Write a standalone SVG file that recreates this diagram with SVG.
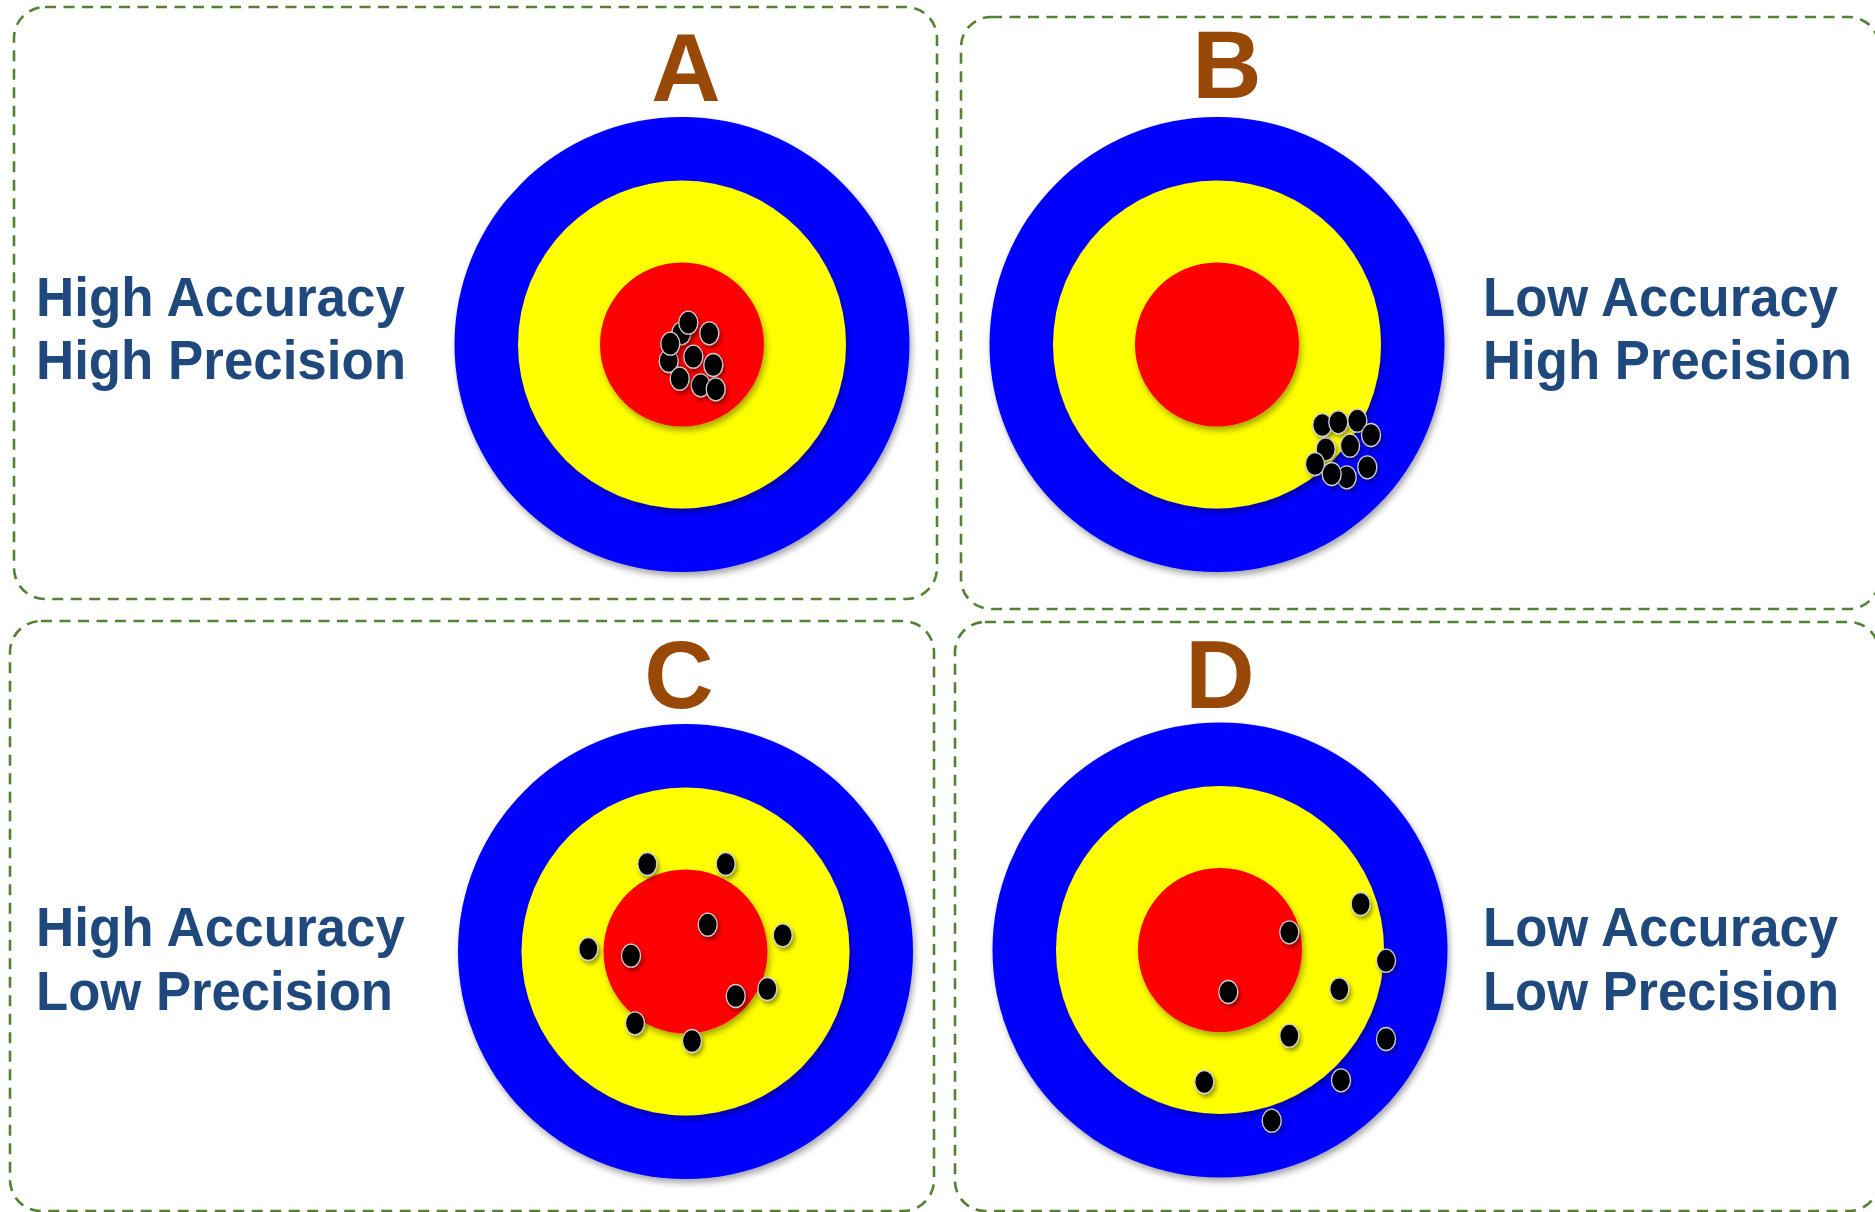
<svg xmlns="http://www.w3.org/2000/svg" width="1875" height="1212" viewBox="0 0 1875 1212">
<defs>
<filter id="sh" x="-20%" y="-20%" width="150%" height="150%">
<feDropShadow dx="2" dy="4" stdDeviation="3" flood-color="#000" flood-opacity="0.35"/>
</filter>
<filter id="dsh" x="-50%" y="-50%" width="220%" height="220%">
<feDropShadow dx="2" dy="3" stdDeviation="2" flood-color="#000" flood-opacity="0.4"/>
</filter>
<g id="target">
<circle r="227.5" fill="#0000FF" filter="url(#sh)"/>
<circle r="164" fill="#FFFF00" filter="url(#sh)"/>
<circle r="82" fill="#FF0000" filter="url(#sh)"/>
</g>
</defs>
<style>
.panel{fill:none;stroke:#548235;stroke-width:2.6;stroke-dasharray:11 7.5}
.letter{font-family:"Liberation Sans",Arial,sans-serif;font-weight:bold;font-size:96px;fill:#984807;text-anchor:middle}
.lbl{font-family:"Liberation Sans",Arial,sans-serif;font-weight:bold;font-size:55px;fill:#1F497D}
.dot{fill:#000;stroke:#d0d0d0;stroke-width:1.3;filter:url(#dsh)}
</style>

<g id="panelA">
<rect class="panel" x="14" y="7" width="923" height="592" rx="31"/>
<text class="letter" x="686" y="101">A</text>
<text class="lbl" x="36" y="316" textLength="369" lengthAdjust="spacingAndGlyphs">High Accuracy</text>
<text class="lbl" x="36" y="379" textLength="370" lengthAdjust="spacingAndGlyphs">High Precision</text>
<g id="targetA">
<use href="#target" x="682" y="344.5"/>
<ellipse class="dot" cx="681.3" cy="333.3" rx="9.5" ry="11.5"/>
<ellipse class="dot" cx="668.7" cy="361" rx="9.5" ry="11.5"/>
<ellipse class="dot" cx="700.7" cy="385.3" rx="9.5" ry="11.5"/>
<ellipse class="dot" cx="688.3" cy="322.7" rx="9.5" ry="11.5"/>
<ellipse class="dot" cx="709.3" cy="333.3" rx="9.5" ry="11.5"/>
<ellipse class="dot" cx="670.3" cy="343.7" rx="9.5" ry="11.5"/>
<ellipse class="dot" cx="693.3" cy="356.7" rx="9.5" ry="11.5"/>
<ellipse class="dot" cx="713.3" cy="365" rx="9.5" ry="11.5"/>
<ellipse class="dot" cx="679.7" cy="378.7" rx="9.5" ry="11.5"/>
<ellipse class="dot" cx="715.7" cy="389.3" rx="9.5" ry="11.5"/>
</g>
</g>

<g id="panelB">
<rect class="panel" x="961" y="17" width="918" height="592" rx="30"/>
<text class="letter" x="1227" y="98">B</text>
<text class="lbl" x="1483" y="316" textLength="355" lengthAdjust="spacingAndGlyphs">Low Accuracy</text>
<text class="lbl" x="1483" y="379" textLength="369" lengthAdjust="spacingAndGlyphs">High Precision</text>
<g id="targetB">
<use href="#target" x="1217" y="344.5"/>
<ellipse class="dot" cx="1322.3" cy="425" rx="9.5" ry="11.5"/>
<ellipse class="dot" cx="1338.3" cy="422.3" rx="9.5" ry="11.5"/>
<ellipse class="dot" cx="1357.3" cy="420.7" rx="9.5" ry="11.5"/>
<ellipse class="dot" cx="1371" cy="435" rx="9.5" ry="11.5"/>
<ellipse class="dot" cx="1325.7" cy="449.3" rx="9.5" ry="11.5"/>
<ellipse class="dot" cx="1350" cy="445.7" rx="9.5" ry="11.5"/>
<ellipse class="dot" cx="1315" cy="464" rx="9.5" ry="11.5"/>
<ellipse class="dot" cx="1346.7" cy="477.3" rx="9.5" ry="11.5"/>
<ellipse class="dot" cx="1331.7" cy="474" rx="9.5" ry="11.5"/>
<ellipse class="dot" cx="1367.3" cy="467.3" rx="9.5" ry="11.5"/>
</g>
</g>

<g id="panelC">
<rect class="panel" x="10" y="621" width="924" height="590" rx="31"/>
<text class="letter" x="679" y="708">C</text>
<text class="lbl" x="36" y="946" textLength="369" lengthAdjust="spacingAndGlyphs">High Accuracy</text>
<text class="lbl" x="36" y="1010" textLength="357" lengthAdjust="spacingAndGlyphs">Low Precision</text>
<g id="targetC">
<use href="#target" x="685.5" y="951.5"/>
<ellipse class="dot" cx="647.3" cy="864" rx="9.5" ry="11.5"/>
<ellipse class="dot" cx="725.7" cy="864" rx="9.5" ry="11.5"/>
<ellipse class="dot" cx="707.7" cy="924.7" rx="9.5" ry="11.5"/>
<ellipse class="dot" cx="782.7" cy="935.3" rx="9.5" ry="11.5"/>
<ellipse class="dot" cx="588.3" cy="949" rx="9.5" ry="11.5"/>
<ellipse class="dot" cx="631" cy="955.7" rx="9.5" ry="11.5"/>
<ellipse class="dot" cx="767.3" cy="989" rx="9.5" ry="11.5"/>
<ellipse class="dot" cx="735.7" cy="996" rx="9.5" ry="11.5"/>
<ellipse class="dot" cx="635" cy="1023.3" rx="9.5" ry="11.5"/>
<ellipse class="dot" cx="692" cy="1041" rx="9.5" ry="11.5"/>
</g>
</g>

<g id="panelD">
<rect class="panel" x="955" y="622" width="924" height="589" rx="30"/>
<text class="letter" x="1220" y="708">D</text>
<text class="lbl" x="1483" y="946" textLength="355" lengthAdjust="spacingAndGlyphs">Low Accuracy</text>
<text class="lbl" x="1483" y="1010" textLength="356" lengthAdjust="spacingAndGlyphs">Low Precision</text>
<g id="targetD">
<use href="#target" x="1220" y="950"/>
<ellipse class="dot" cx="1360.7" cy="904" rx="9.5" ry="11.5"/>
<ellipse class="dot" cx="1289.3" cy="932.3" rx="9.5" ry="11.5"/>
<ellipse class="dot" cx="1386" cy="960.7" rx="9.5" ry="11.5"/>
<ellipse class="dot" cx="1339.3" cy="989.3" rx="9.5" ry="11.5"/>
<ellipse class="dot" cx="1228.3" cy="992" rx="9.5" ry="11.5"/>
<ellipse class="dot" cx="1289.3" cy="1035.7" rx="9.5" ry="11.5"/>
<ellipse class="dot" cx="1386" cy="1039" rx="9.5" ry="11.5"/>
<ellipse class="dot" cx="1341" cy="1080.3" rx="9.5" ry="11.5"/>
<ellipse class="dot" cx="1204.3" cy="1082" rx="9.5" ry="11.5"/>
<ellipse class="dot" cx="1271.7" cy="1120.7" rx="9.5" ry="11.5"/>
</g>
</g>

<g id="connectors"/>
</svg>
